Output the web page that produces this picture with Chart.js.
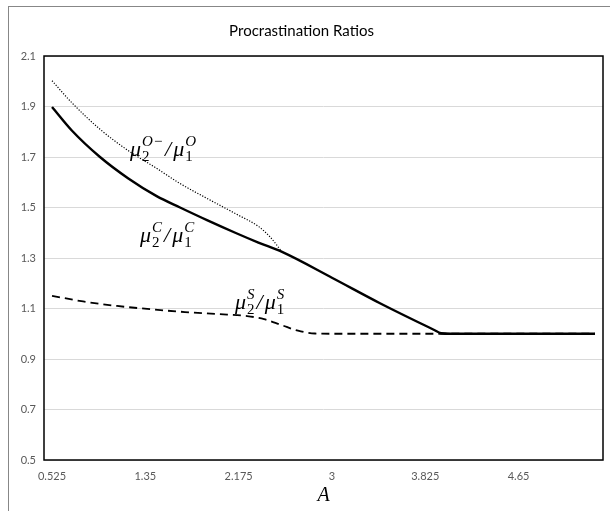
<!DOCTYPE html>
<html lang="en">
<head>
<meta charset="UTF-8">
<title>Procrastination Ratios</title>
<style>
  html, body { margin: 0; padding: 0; background: #ffffff; overflow: hidden; }
  #wrap { position: relative; width: 610px; height: 511px; }
  #frame { position: absolute; left: 8px; top: 6px; width: 700px; height: 600px; border: 1px solid #878787; pointer-events: none; }
  canvas { position: absolute; left: 0; top: 0; }
</style>
</head>
<body>
<div id="wrap">
  <canvas id="chart" width="610" height="511"></canvas>
  <div id="frame"></div>
</div>
<script src="https://cdn.jsdelivr.net/npm/chart.js"></script>
<script>
// tick labels
const xTicks = [0.525, 1.35, 2.175, 3, 3.825, 4.65];
const xTickLabels = ['0.525', '1.35', '2.175', '3', '3.825', '4.65'];
const yTicks = [0.5, 0.7, 0.9, 1.1, 1.3, 1.5, 1.7, 1.9, 2.1];

// mu2C / mu1C  (solid)
const aC = [0.525, 0.7, 0.949, 1.2, 1.45, 1.657, 1.9, 2.15, 2.35, 2.559, 3.0, 3.425, 3.9, 3.965, 4.05, 5.326];
const rC = [1.898, 1.805, 1.70, 1.615, 1.545, 1.50, 1.449, 1.399, 1.361, 1.324, 1.222, 1.121, 1.016, 1.002, 1.0, 1.0];

// mu2O- / mu1O  (dotted)
const aO = [0.525, 0.7, 0.949, 1.2, 1.45, 1.657, 1.9, 2.15, 2.35, 2.45, 2.559];
const rO = [2.002, 1.915, 1.81, 1.725, 1.655, 1.595, 1.535, 1.475, 1.425, 1.385, 1.324];

// mu2S / mu1S  (dashed)
const aS = [0.525, 0.8, 1.1, 1.4, 1.7, 2.0, 2.25, 2.4, 2.55, 2.7, 2.85, 3.0, 5.326];
const rS = [1.15, 1.128, 1.11, 1.097, 1.086, 1.078, 1.07, 1.058, 1.035, 1.012, 1.001, 1.0, 1.0];

function pts(xs, ys) {
  return xs.map((x, i) => ({ x: x, y: ys[i] }));
}

// labels sit at data coordinates (left end, baseline)
const ratioLabels = [
  { x: 1.215, y: 1.704, sup2: 'O\u2212', sup1: 'O' },
  { x: 1.303, y: 1.365, sup2: 'C', sup1: 'C' },
  { x: 2.143, y: 1.097, sup2: 'S', sup1: 'S' }
];

const MATH_FONT = '"Liberation Serif", "DejaVu Serif", serif';

function drawMu(ctx, x, y, sub, sup) {
  ctx.font = 'italic 22px ' + MATH_FONT;
  ctx.fillText('\u03bc', x, y);
  x += ctx.measureText('\u03bc').width + 1;
  ctx.font = '15px ' + MATH_FONT;
  const wSub = ctx.measureText(sub).width;
  ctx.fillText(sub, x, y + 5);
  ctx.font = 'italic 15px ' + MATH_FONT;
  const wSup = ctx.measureText(sup).width;
  ctx.fillText(sup, x, y - 10);
  return x + Math.max(wSub, wSup);
}

const overlay = {
  id: 'overlay',
  afterDatasetsDraw(chart) {
    const ctx = chart.ctx;
    const a = chart.chartArea;
    ctx.save();
    ctx.strokeStyle = '#000000';
    ctx.lineWidth = 1.5;
    ctx.strokeRect(a.left, a.top, a.right - a.left, a.bottom - a.top);

    const xs = chart.scales.x, ys = chart.scales.y;
    ctx.fillStyle = '#000000';
    ctx.textBaseline = 'alphabetic';
    ctx.textAlign = 'left';
    ratioLabels.forEach(l => {
      let px = xs.getPixelForValue(l.x);
      const py = ys.getPixelForValue(l.y);
      px = drawMu(ctx, px, py, '2', l.sup2);
      ctx.font = 'italic 22px ' + MATH_FONT;
      px += 2;
      ctx.fillText('/', px, py);
      px += ctx.measureText('/').width + 2;
      drawMu(ctx, px, py, '1', l.sup1);
    });
    ctx.restore();
  }
};

const ctx = document.getElementById('chart').getContext('2d');
const chart = new Chart(ctx, {
  type: 'line',
  data: {
    datasets: [
      {
        label: 'C',
        data: pts(aC, rC),
        borderColor: '#000000',
        borderWidth: 2.4,
        pointRadius: 0,
        cubicInterpolationMode: 'monotone',
        fill: false,
        order: 0
      },
      {
        label: 'O',
        data: pts(aO, rO),
        borderColor: '#000000',
        borderWidth: 1.2,
        borderDash: [1.2, 1.6],
        pointRadius: 0,
        cubicInterpolationMode: 'monotone',
        fill: false,
        order: 1
      },
      {
        label: 'S',
        data: pts(aS, rS),
        borderColor: '#000000',
        borderWidth: 1.8,
        borderDash: [8, 5],
        pointRadius: 0,
        cubicInterpolationMode: 'monotone',
        fill: false,
        order: 2
      }
    ]
  },
  options: {
    responsive: false,
    animation: false,
    layout: { padding: { top: 0, left: 0, right: 7, bottom: 0 } },
    plugins: {
      legend: { display: false },
      tooltip: { enabled: false },
      title: {
        display: true,
        text: 'Procrastination Ratios',
        color: '#000000',
        font: { family: 'Lato', size: 15, weight: 'normal' },
        padding: { top: 22, bottom: 16 }
      }
    },
    scales: {
      x: {
        type: 'linear',
        min: 0.454,
        max: 5.397,
        grid: { display: false, drawTicks: false },
        border: { display: false },
        afterBuildTicks: s => { s.ticks = xTicks.map(v => ({ value: v })); },
        ticks: {
          padding: 10,
          color: '#595959',
          autoSkip: false,
          maxRotation: 0,
          font: { family: 'Lato', size: 11 },
          callback: (v, i) => xTickLabels[i]
        },
        title: {
          display: true,
          text: 'A',
          color: '#000000',
          font: { family: 'Liberation Serif', size: 20, style: 'italic' },
          padding: { top: 0, bottom: 3 }
        },
        afterFit: s => { s.height = 51; }
      },
      y: {
        min: 0.5,
        max: 2.1,
        grid: { color: '#d9d9d9', drawTicks: false },
        border: { display: false },
        afterBuildTicks: s => { s.ticks = yTicks.map(v => ({ value: v })); },
        ticks: {
          padding: 8,
          color: '#595959',
          font: { family: 'Lato', size: 11 },
          callback: v => v.toFixed(1)
        },
        afterFit: s => { s.width = 44; }
      }
    }
  },
  plugins: [overlay]
});
</script>
</body>
</html>
